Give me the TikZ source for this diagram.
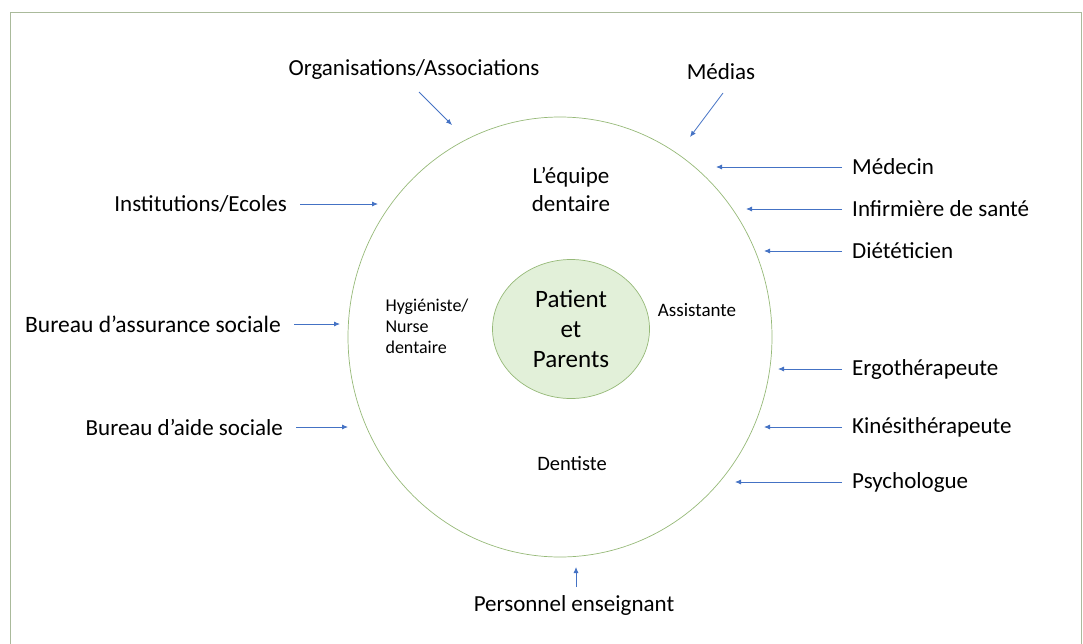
\documentclass[tikz,border=0pt]{standalone}
\usepackage{fontspec}
\setmainfont{Carlito}
\usetikzlibrary{arrows.meta}
\usetikzlibrary{shapes.geometric}

\definecolor{arrowblue}{RGB}{68,114,196}
\definecolor{ringgreen}{RGB}{150,185,120}
\definecolor{corefill}{RGB}{226,240,217}
\definecolor{frameline}{RGB}{170,186,155}

\begin{document}
\begin{tikzpicture}
[x=1pt,y=-1pt,%
  every node/.style={inner sep=0pt,font=\fontsize{23}{28}\selectfont},%
  member/.style={anchor=west},%
  group/.style={anchor=east},%
  role/.style={font=\fontsize{19}{21}\selectfont,align=left},%
  link/.style={draw=arrowblue,line width=0.8pt,-{Latex[length=6pt,width=5pt]}}]
\useasboundingbox (0,0) rectangle (1083,643);
\draw[frameline,thick] (10,12) rectangle (1081,660);
% the team and the child
\draw[ringgreen,line width=0.7pt] (560,337) ellipse [x radius=212,y radius=220];
\node[draw=ringgreen,line width=0.7pt,fill=corefill,ellipse,minimum width=157pt,minimum height=139pt,
  align=center,font=\fontsize{25}{30}\selectfont] (core) at (571,329) {Patient\\et\\Parents};
\node[align=center] (equipe) at (571,189) {L’équipe\\dentaire};
\node[role,font=\fontsize{18}{21}\selectfont] (hyg) at (427,326) {Hygiéniste/\\Nurse\\dentaire};
\node[role] (assist) at (697,310) {Assistante};
\node[role,font=\fontsize{20.5}{21}\selectfont] (dentiste) at (572,463) {Dentiste};
% tips on the ring
\coordinate (tOrg) at (452,125);
\coordinate (tMed) at (690,137);
\coordinate (tMdc) at (716,167);
\coordinate (tInf) at (746,209);
\coordinate (tDie) at (764,251);
\coordinate (tErg) at (778,369);
\coordinate (tKin) at (764,427);
\coordinate (tPsy) at (735,482);
\coordinate (tPer) at (576,567);
\coordinate (tIns) at (378,204);
\coordinate (tBas) at (340,324);
\coordinate (tBai) at (348,427);
% outside helpers
\node (org) at (414,69) {Organisations/Associations};
\node (medias) at (721,72) {Médias};
\node[member] (medecin) at (852,167) {Médecin};
\node[member] (infirm) at (852,209) {Infirmière de santé};
\node[member] (diet) at (852,251) {Diététicien};
\node[member] (ergo) at (852,369) {Ergothérapeute};
\node[member] (kine) at (852,427) {Kinésithérapeute};
\node[member] (psy) at (852,482) {Psychologue};
\node (pers) at (574,605) {Personnel enseignant};
\node[group] (inst) at (287,204) {Institutions/Ecoles};
\node[group,font=\fontsize{23.5}{28}\selectfont] (bas) at (281,324) {Bureau d’assurance sociale};
\node[group] (bai) at (283,427) {Bureau d’aide sociale};
\draw[link] (419,92) -- (tOrg);
\draw[link] (723,93) -- (tMed);
\foreach \who/\tip in {medecin/tMdc,infirm/tInf,diet/tDie,ergo/tErg,kine/tKin,psy/tPsy}
  \draw[link] ([xshift=-10pt]\who.west) -- (\tip);
\foreach \who/\tip in {inst/tIns,bas/tBas,bai/tBai}
  \draw[link] ([xshift=13pt]\who.east) -- (\tip);
\draw[link] ([yshift=-20pt]tPer) -- (tPer);
\end{tikzpicture}
\end{document}
